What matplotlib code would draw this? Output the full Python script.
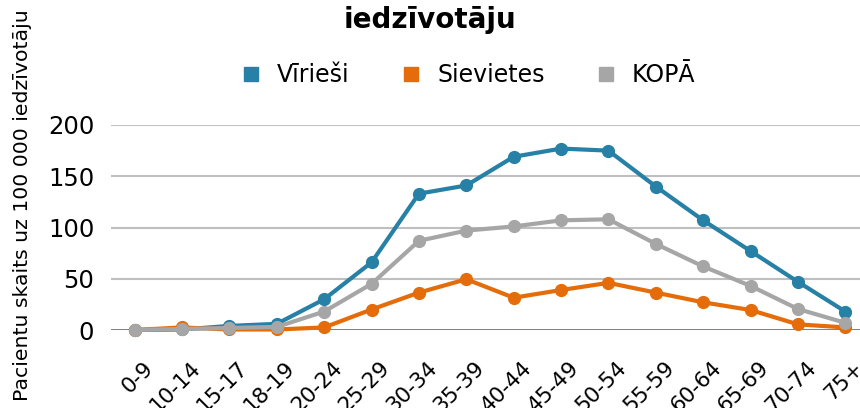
import matplotlib.pyplot as plt
import matplotlib.transforms as mtransforms

# Age groups and rates per 100 000 inhabitants
age_groups = ['0-9', '10-14', '15-17', '18-19', '20-24', '25-29', '30-34', '35-39',
              '40-44', '45-49', '50-54', '55-59', '60-64', '65-69', '70-74', '75+']
virriesi = [0, 0.5, 4, 6, 30, 66, 133, 141, 169, 177, 175, 140, 107, 77, 47, 18]
sievietes = [0, 2.5, 0.5, 0.5, 2.5, 20, 36.5, 49.5, 31.5, 39, 46, 36.5, 27, 19.5, 5.5, 2.5]
kopa = [0, 1, 2, 3, 18, 45, 87, 97, 101, 107, 108, 84, 62, 43, 20.5, 7]

series = [('Vīrieši', virriesi, '#2780A6'),
          ('Sievietes', sievietes, '#E46C0A'),
          ('KOPĀ', kopa, '#A6A6A6')]

plt.rcParams['font.family'] = ['DejaVu Sans']

fig = plt.figure(figsize=(8.6, 4.08), dpi=100)
ax = fig.add_axes([111 / 860, 78 / 408, 758 / 860, 205 / 408])

x = list(range(len(age_groups)))
for name, vals, col in series:
    ax.plot(x, vals, color=col, lw=3, marker='o', ms=8.5, clip_on=False, zorder=3)

ax.set_xlim(-0.5, len(age_groups) - 0.5)
ax.set_ylim(0, 200)
ax.set_yticks([0, 50, 100, 150, 200])
for y in [50, 100, 150, 200]:
    ax.axhline(y, color='#BFBFBF', lw=1.5, zorder=1)
ax.axhline(0, color='#595959', lw=1.8, zorder=2)
for s in ax.spines.values():
    s.set_visible(False)

ax.tick_params(axis='both', length=0, colors='black')
ax.tick_params(axis='y', pad=12, labelsize=17.5)
ax.set_xticks(x)
ax.set_xticklabels(age_groups, rotation=45, ha='right', va='top',
                   rotation_mode='anchor', fontsize=15.5)
ax.tick_params(axis='x', pad=20)
shift = mtransforms.ScaledTranslation(8 / 100, 0, fig.dpi_scale_trans)
for lbl in ax.get_xticklabels():
    lbl.set_transform(lbl.get_transform() + shift)

fig.text(23 / 860, 1 - 205 / 408, 'Pacientu skaits uz 100 000 iedzīvotāju',
         rotation=90, ha='center', va='center', fontsize=14.7)

fig.text(0.5, 0.95, 'iedzīvotāju', ha='center', va='center',
         fontsize=20, fontweight='bold')

handles = [plt.Line2D([], [], color=c, marker='s', ls='none', ms=9.5) for _, _, c in series]
fig.legend(handles, [s[0] for s in series], loc='center', bbox_to_anchor=(0.542, 0.815),
           ncol=3, frameon=False, fontsize=17, handletextpad=0.5, columnspacing=2.0,
           handlelength=1.2)

fig.savefig('out.png', dpi=100)
